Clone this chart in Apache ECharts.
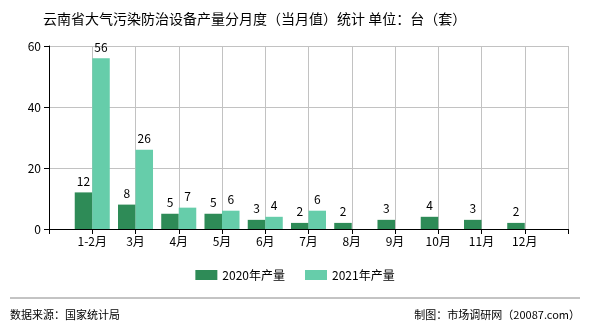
<!DOCTYPE html>
<html><head><meta charset="utf-8">
<script src="https://cdn.jsdelivr.net/npm/echarts@6/dist/echarts.min.js"></script>
<style>html,body{margin:0;padding:0;background:#fff}#c{width:590px;height:330px}</style>
</head><body><div id="c"></div>
<script>
var categories = ['', '1-2月', '3月', '4月', '5月', '6月', '7月', '8月', '9月', '10月', '11月', '12月', ''];
var values2020 = [null, 12, 8, 5, 5, 3, 2, 2, 3, 4, 3, 2, null];
var values2021 = [null, 56, 26, 7, 6, 4, 6, null, null, null, null, null, null];
var yTicks = [0, 20, 40, 60];
var seriesNames = ['2020年产量', '2021年产量'];
var titleText = '云南省大气污染防治设备产量分月度（当月值）统计 单位：台（套）';
var sourceText = '数据来源：国家统计局';
var makerText = '制图：市场调研网（20087.com）';

var font = '"Noto Sans CJK SC", "Noto Sans", sans-serif';
var chart = echarts.init(document.getElementById('c'), null, {renderer: 'canvas'});
var labelCfg = {show: true, position: 'top', distance: 5, color: '#000', fontSize: 12, fontFamily: font};
chart.setOption({
  animation: false,
  textStyle: {fontFamily: font},
  title: {text: titleText, left: 38, top: 7, textStyle: {fontSize: 14, fontWeight: 'normal', color: '#000', fontFamily: font}},
  grid: {left: 49, right: 22, top: 46, bottom: 101},
  legend: {data: seriesNames, bottom: 44, left: 'center', itemWidth: 22, itemHeight: 10, itemGap: 20,
    textStyle: {fontSize: 12, color: '#000', fontFamily: font}, icon: 'rect'},
  xAxis: {type: 'category', data: categories, boundaryGap: false,
    axisLine: {lineStyle: {color: '#000', width: 1}},
    axisTick: {show: true, length: 5, interval: 0, lineStyle: {color: '#000'}},
    axisLabel: {color: '#000', fontSize: 12, margin: 6, interval: 0, fontFamily: font},
    splitLine: {show: true, interval: 0, lineStyle: {color: '#c2c2c2', width: 1}}},
  yAxis: {type: 'value', min: yTicks[0], max: yTicks[yTicks.length - 1], interval: 20,
    axisLine: {show: true, lineStyle: {color: '#000'}},
    axisTick: {show: true, length: 5, lineStyle: {color: '#000'}},
    axisLabel: {color: '#000', fontSize: 12, margin: 8, fontFamily: font},
    splitLine: {show: true, lineStyle: {color: '#c2c2c2', width: 1}}},
  series: [
    {name: seriesNames[0], type: 'bar', data: values2020, barGap: 0, barCategoryGap: '19%',
      itemStyle: {color: '#2e8b57'}, label: labelCfg},
    {name: seriesNames[1], type: 'bar', data: values2021, barGap: 0, barCategoryGap: '19%',
      itemStyle: {color: '#66cdaa'}, label: labelCfg}
  ],
  graphic: [
    {type: 'line', shape: {x1: 10, y1: 298, x2: 580, y2: 298}, style: {stroke: '#888', lineWidth: 1}},
    {type: 'text', left: 10, top: 309, style: {text: sourceText, fontSize: 11, fill: '#000', fontFamily: font}},
    {type: 'text', right: 10, top: 309, style: {text: makerText, fontSize: 11, fill: '#000', fontFamily: font}}
  ]
});
</script></body></html>
